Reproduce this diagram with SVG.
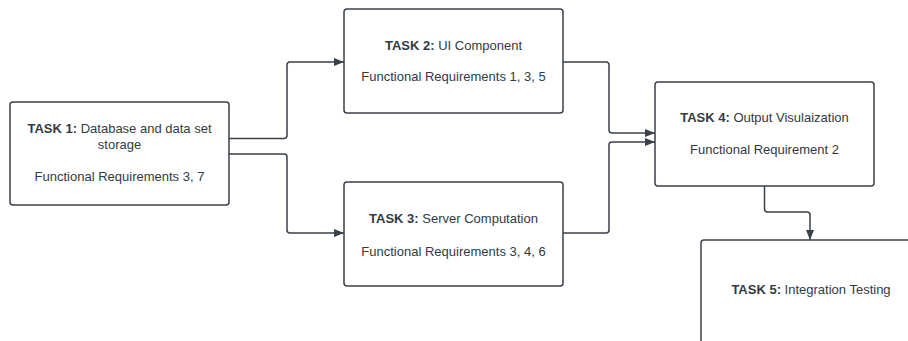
<svg xmlns="http://www.w3.org/2000/svg" width="908" height="341" viewBox="0 0 908 341">
  <style>
    .box { fill: #ffffff; stroke: #3a414a; stroke-width: 1.5; }
    .lbl { font-family: "Liberation Sans", Arial, sans-serif; font-size: 13px; fill: #333a42; text-anchor: middle; }
    .lbl .b { font-weight: bold; }
    .edge { fill: none; stroke: #3a414a; stroke-width: 1.5; }
  </style>
  <defs>
    <marker id="arrow" viewBox="0 0 10 10" refX="10" refY="5" markerWidth="10" markerHeight="10" markerUnits="userSpaceOnUse" orient="auto">
      <path d="M0,1 L10,5 L0,9 Z" fill="#3a414a"/>
    </marker>
  </defs>
  <rect width="908" height="341" fill="#ffffff"/>

  <g id="connectors">
    <path class="edge" marker-end="url(#arrow)" d="M229,138.5 H284 Q287,138.5 287,135.5 V65 Q287,62 290,62 H344"/>
    <path class="edge" marker-end="url(#arrow)" d="M229,154 H284 Q287,154 287,157 V230 Q287,233 290,233 H344"/>
    <path class="edge" marker-end="url(#arrow)" d="M563,62 H606 Q609,62 609,65 V130 Q609,133 612,133 H655"/>
    <path class="edge" marker-end="url(#arrow)" d="M563,233 H606 Q609,233 609,230 V145 Q609,142 612,142 H655"/>
    <path class="edge" marker-end="url(#arrow)" d="M764.5,186 V209 Q764.5,212 767.5,212 H807 Q810,212 810,215 V240"/>
  </g>

  <g id="task1">
    <rect class="box" x="10" y="102" width="219" height="103" rx="3"/>
    <text class="lbl" x="119.5" y="133"><tspan class="b">TASK 1:</tspan> Database and data set</text>
    <text class="lbl" x="119.5" y="149">storage</text>
    <text class="lbl" x="119.5" y="181">Functional Requirements 3, 7</text>
  </g>

  <g id="task2">
    <rect class="box" x="344" y="9" width="219" height="104" rx="3"/>
    <text class="lbl" x="453.5" y="50"><tspan class="b">TASK 2:</tspan> UI Component</text>
    <text class="lbl" x="453.5" y="81">Functional Requirements 1, 3, 5</text>
  </g>

  <g id="task3">
    <rect class="box" x="344" y="182" width="219" height="104" rx="3"/>
    <text class="lbl" x="453.5" y="223"><tspan class="b">TASK 3:</tspan> Server Computation</text>
    <text class="lbl" x="453.5" y="256">Functional Requirements 3, 4, 6</text>
  </g>

  <g id="task4">
    <rect class="box" x="655" y="82" width="219" height="104" rx="3"/>
    <text class="lbl" x="764.5" y="122"><tspan class="b">TASK 4:</tspan> Output Visulaization</text>
    <text class="lbl" x="764.5" y="154">Functional Requirement 2</text>
  </g>

  <g id="task5">
    <rect class="box" x="701" y="240" width="220" height="120" rx="3"/>
    <text class="lbl" x="811" y="294"><tspan class="b">TASK 5:</tspan> Integration Testing</text>
  </g>
</svg>
